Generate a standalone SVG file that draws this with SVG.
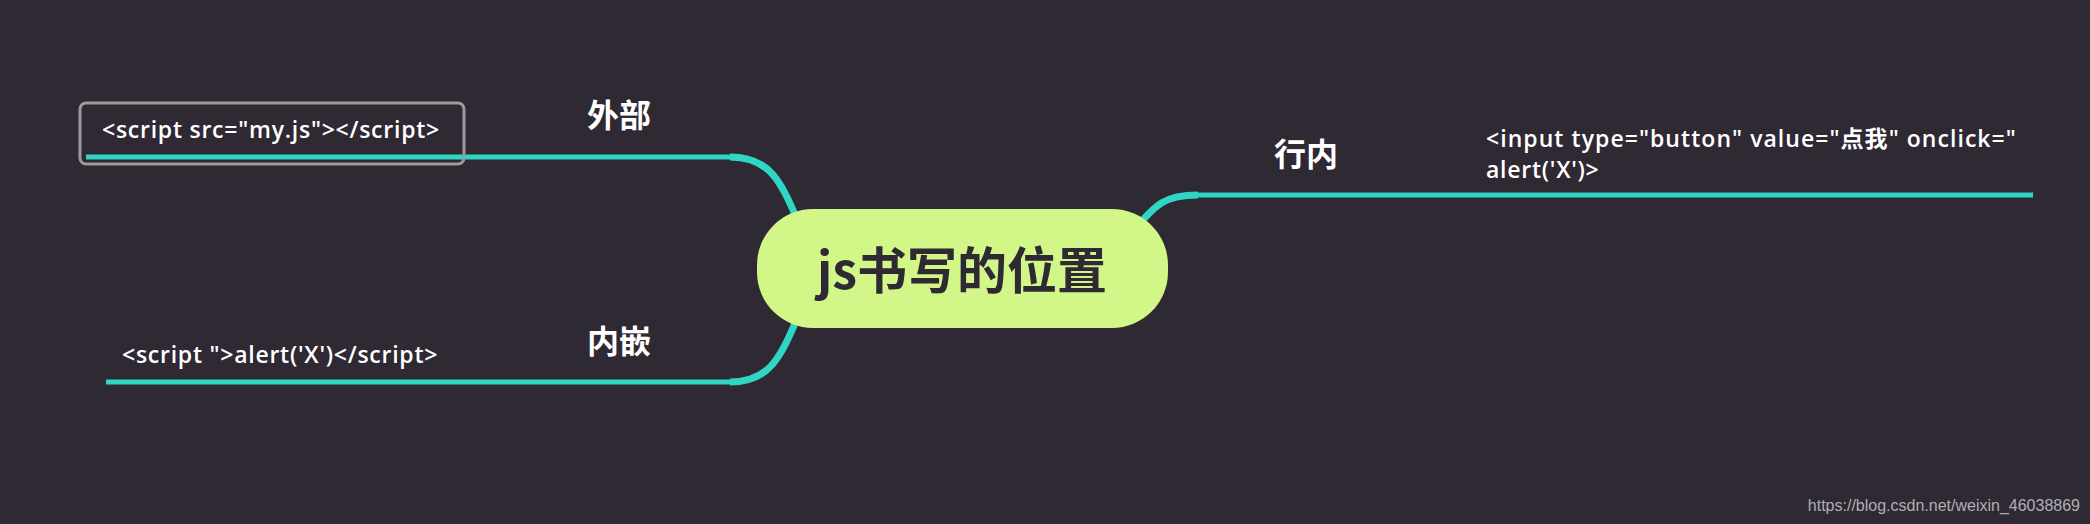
<svg xmlns="http://www.w3.org/2000/svg" width="2090" height="524" viewBox="0 0 2090 524">
<style>
.bg{fill:#2e2933}
.conn{fill:none;stroke:#2fd6c4;stroke-linecap:butt}
.thin{stroke-width:5}
.thick{stroke-width:7}
.lbl{font-family:"Noto Sans CJK SC","Noto Sans",sans-serif;font-weight:700;font-size:32px;fill:#ffffff;text-anchor:middle}
.code{font-family:"Open Sans","Noto Sans CJK SC",sans-serif;font-weight:600;font-size:23px;letter-spacing:0.75px;fill:#ffffff}
.root{font-family:"Noto Sans CJK SC","Noto Sans",sans-serif;font-weight:700;font-size:50px;fill:#2e2933;text-anchor:middle}
.wm{font-family:"Liberation Sans",Arial,sans-serif;font-size:16px;fill:#b0aeb3;text-anchor:end}
</style>
<rect class="bg" x="0" y="0" width="2090" height="524"/>
<g id="connectors">
<path class="conn thin" d="M730 157 L86 157"/>
<path class="conn thick" d="M800 226 C781 182 771 157 730 157"/>
<path class="conn thin" d="M730 382 L106 382"/>
<path class="conn thick" d="M800 312 C781 356 771 382 730 382"/>
<path class="conn thin" d="M1195 195 L2033 195"/>
<path class="conn thick" d="M1134 230 C1156 204 1165 195 1198 195"/>
</g>
<g id="root">
<rect x="757" y="209" width="411" height="119" rx="56" ry="56" fill="#d2f688"/>
<text class="root" x="962" y="289">js书写的位置</text>
</g>
<g id="external">
<text class="lbl" x="619" y="127">外部</text>
</g>
<g id="external-code">
<rect x="80" y="103" width="384" height="61" rx="6" ry="6" fill="none" stroke="#9b9b9b" stroke-width="3"/>
<text class="code" x="102" y="138">&lt;script src="my.js"&gt;&lt;/script&gt;</text>
</g>
<g id="embedded">
<text class="lbl" x="619" y="353">内嵌</text>
</g>
<g id="embedded-code">
<text class="code" x="122" y="363">&lt;script "&gt;alert('X')&lt;/script&gt;</text>
</g>
<g id="inline">
<text class="lbl" x="1306" y="166">行内</text>
</g>
<g id="inline-code">
<text class="code" x="1486" y="147" style="letter-spacing:1.05px">&lt;input type="button" value="点我" onclick="</text>
<text class="code" x="1486" y="178">alert('X')&gt;</text>
</g>
<text class="wm" x="2080" y="511">https://blog.csdn.net/weixin_46038869</text>
</svg>
